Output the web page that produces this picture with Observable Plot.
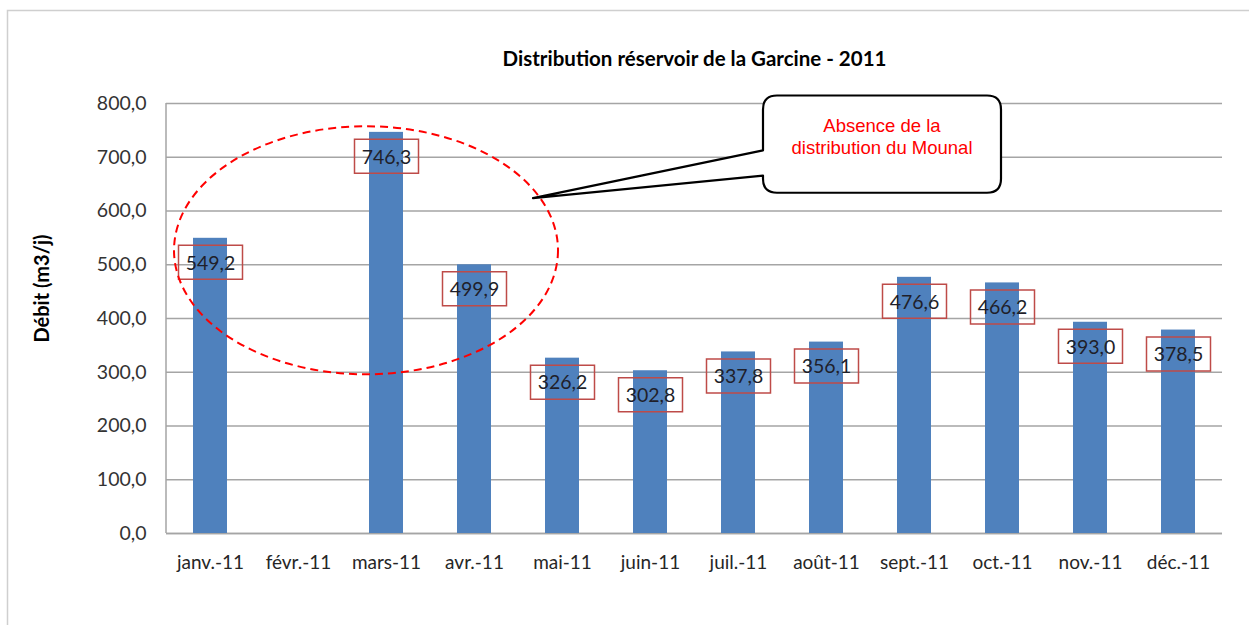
<!DOCTYPE html>
<html><head><meta charset="utf-8">
<script src="https://cdn.jsdelivr.net/npm/d3@7"></script>
<script src="https://cdn.jsdelivr.net/npm/@observablehq/plot@0.6"></script>
<style>body{margin:0;background:#fff} svg{display:block}</style>
</head><body><div id="chart"></div>
<script>
const title = "Distribution réservoir de la Garcine - 2011";
const yLabel = "Débit (m3/j)";
const months = ["janv.-11","févr.-11","mars-11","avr.-11","mai-11","juin-11","juil.-11","août-11","sept.-11","oct.-11","nov.-11","déc.-11"];
const values = [549.2, null, 746.3, 499.9, 326.2, 302.8, 337.8, 356.1, 476.6, 466.2, 393.0, 378.5];
const yTicks = [0,100,200,300,400,500,600,700,800];
const calloutLines = ["Absence de la", "distribution du Mounal"];

const data = months.map((m,i)=>({month:m, value:values[i]}));
const present = data.filter(d=>d.value!=null);
const fmt = v => v.toFixed(1).replace(".", ",");
const boxSymbol = {draw(ctx){ ctx.moveTo(-32,-17); ctx.lineTo(32,-17); ctx.lineTo(32,17); ctx.lineTo(-32,17); ctx.closePath(); }};

const chart = Plot.plot({
  width:1249, height:625, marginLeft:166, marginRight:27, marginTop:103, marginBottom:92,
  style:{fontFamily:"Lato", background:"transparent"},
  x:{domain:months, paddingInner:0.61, paddingOuter:0.305, label:null},
  y:{domain:[0,800], label:null},
  marks:[
    Plot.gridY(yTicks, {stroke:"#a5a5a5", strokeOpacity:1, strokeWidth:1.5}),
    Plot.ruleY([0], {stroke:"#a5a5a5", strokeWidth:1.5}),
    Plot.barY(present, {x:"month", y:"value", fill:"#4f81bd"}),
    Plot.axisY(yTicks, {tickSize:0, tickPadding:20, tickFormat:fmt, fontSize:19.5, fill:"#333", label:null}),
    Plot.axisX({tickSize:0, tickPadding:22, fontSize:19, fill:"#262626", label:null}),
    Plot.dot(present, {x:"month", y:"value", symbol:boxSymbol, r:5, dy:24, stroke:"#be4b48", strokeWidth:1.5, fill:"none"}),
    Plot.text(present, {x:"month", y:"value", text:d=>fmt(d.value), dy:25, fontSize:19.5, fill:"#1f1f2a", fontFamily:"Lato"}),
    Plot.text([title], {frameAnchor:"top", dy:-52, fontSize:20.5, fontWeight:"bold", fill:"#000", fontFamily:"Lato"}),
    Plot.text([yLabel], {frameAnchor:"left", textAnchor:"middle", rotate:-90, dx:-124, dy:-30, fontSize:20, fontWeight:"bold", fill:"#000", fontFamily:"Lato"})
  ]
});
document.getElementById("chart").appendChild(chart);

const svg = d3.select(chart);
const sx = chart.scale("x"), sy = chart.scale("y");
const bw = sx.bandwidth;
const x0 = sx.range[0];
const y0 = sy.apply(0), yTop = sy.apply(800);

// outer border (top and left visible)
svg.insert("rect", ":first-child").attr("x",7.5).attr("y",10.5).attr("width",1300).attr("height",700)
  .attr("fill","none").attr("stroke","#cfcfcf").attr("stroke-width",1.5);
// left axis line
svg.append("line").attr("x1",x0).attr("x2",x0).attr("y1",yTop).attr("y2",y0)
  .attr("stroke","#a5a5a5").attr("stroke-width",1.5);

// dashed ellipse around janv-avr
const cx = sx.apply("mars-11") + bw/2 - 20;
const cy = sy.apply(526);
svg.append("ellipse").attr("cx",cx).attr("cy",cy).attr("rx",192).attr("ry",124)
  .attr("fill","none").attr("stroke","#ff0000").attr("stroke-width",2).attr("stroke-dasharray","8,5");

// callout
const bx0 = sx.apply("juil.-11") + 42, bx1 = sx.apply("oct.-11") + bw/2 - 1;
const by0 = sy.apply(814), by1 = sy.apply(633);
const r = 14;
const tipX = cx + 167, tipY = sy.apply(623);
const p1 = sy.apply(712), p2 = sy.apply(665);
const path = `M${bx0+r},${by0} H${bx1-r} Q${bx1},${by0} ${bx1},${by0+r} V${by1-r} Q${bx1},${by1} ${bx1-r},${by1} H${bx0+r} Q${bx0},${by1} ${bx0},${by1-r} V${p2} L${tipX},${tipY} L${bx0},${p1} V${by0+r} Q${bx0},${by0} ${bx0+r},${by0} Z`;
svg.append("path").attr("d",path).attr("fill","#fff").attr("stroke","#000").attr("stroke-width",2.2).attr("stroke-linejoin","round");
const tcx = (bx0+bx1)/2;
calloutLines.forEach((t,i)=>{
  svg.append("text").attr("x",tcx).attr("y",by0 + 37 + i*22).attr("text-anchor","middle")
    .attr("font-family","Liberation Sans, Arial, sans-serif").attr("font-size",18.5).attr("fill","#ff0000").text(t);
});
</script></body></html>
